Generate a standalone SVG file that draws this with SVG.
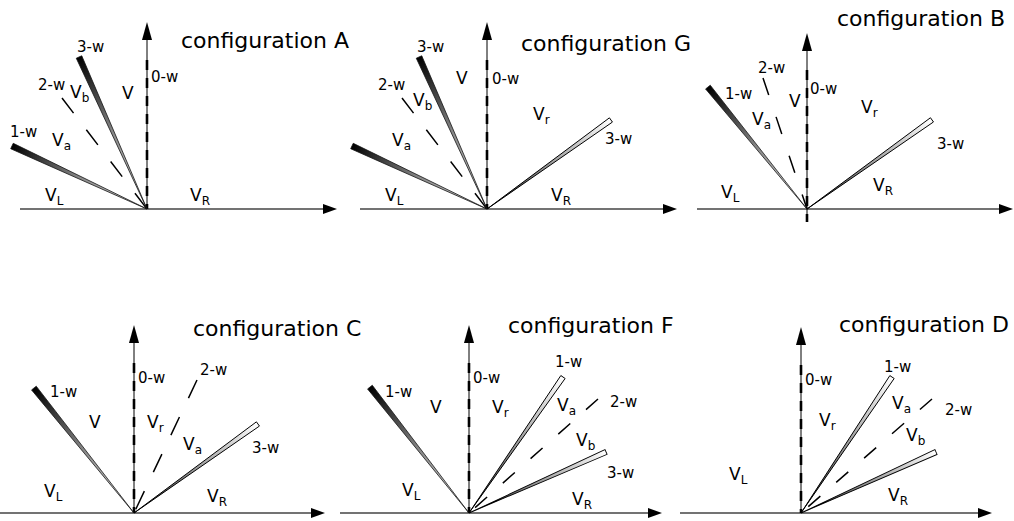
<svg xmlns="http://www.w3.org/2000/svg" width="1014" height="521" viewBox="0 0 1014 521">
<defs>
<linearGradient id="gDark" x1="0" y1="0" x2="1" y2="0">
<stop offset="0" stop-color="#e0e0e0"/>
<stop offset="0.5" stop-color="#888"/>
<stop offset="1" stop-color="#000"/>
</linearGradient>
<linearGradient id="gLight" x1="0" y1="0" x2="1" y2="0">
<stop offset="0" stop-color="#222"/>
<stop offset="0.5" stop-color="#999"/>
<stop offset="1" stop-color="#fff"/>
</linearGradient>
<style>
text{font-family:"DejaVu Sans","Liberation Sans",sans-serif;fill:#000}
.cfg{font-size:22px}
.w{font-size:15px}
.v{font-size:17px}
.s{font-size:12px}
.hax{stroke:#444;stroke-width:1.5;fill:none}
.vax{stroke:#000;stroke-width:1;fill:none}
.vdash{stroke:#000;stroke-width:2.6;stroke-dasharray:10 8;fill:none}
.dk{fill:url(#gDark);stroke:#111;stroke-width:0.7}
.lt{fill:url(#gLight);stroke:#000;stroke-width:0.9}
.dl{stroke:#000;stroke-width:1.5;fill:none}
.ah{fill:#000}
</style>
</defs>

<g id="connectors">
<!-- Panel A -->
<line class="hax" x1="20" y1="209" x2="326" y2="209"/>
<polygon class="ah" points="337,209 323,204 323,214"/>
<line class="vax" x1="147" y1="209" x2="147" y2="38"/>
<line class="vdash" x1="147" y1="60" x2="147" y2="209"/>
<polygon class="ah" points="147,22 142,40 152,40"/>
<line class="dl" x1="62" y1="98" x2="147" y2="209" stroke-dasharray="19 21"/>
<!-- Panel G -->
<line class="hax" x1="360" y1="209" x2="666" y2="209"/>
<polygon class="ah" points="677,209 663,204 663,214"/>
<line class="vax" x1="487" y1="209" x2="487" y2="38"/>
<line class="vdash" x1="487" y1="60" x2="487" y2="209"/>
<polygon class="ah" points="487,22 482,40 492,40"/>
<line class="dl" x1="402" y1="98" x2="487" y2="209" stroke-dasharray="19 21"/>
<!-- Panel B -->
<line class="hax" x1="697" y1="209" x2="1002" y2="209"/>
<polygon class="ah" points="1013,209 999,204 999,214"/>
<line class="vax" x1="807" y1="222" x2="807" y2="50"/>
<line class="vdash" x1="807" y1="70" x2="807" y2="222"/>
<polygon class="ah" points="807,33 802,51 812,51"/>
<line class="dl" x1="763" y1="78" x2="807" y2="209" stroke-dasharray="18 23"/>
<!-- Panel C -->
<line class="hax" x1="0" y1="513" x2="314" y2="513"/>
<polygon class="ah" points="325,513 311,508 311,518"/>
<line class="vax" x1="134" y1="513" x2="134" y2="341"/>
<line class="vdash" x1="134" y1="363" x2="134" y2="513"/>
<polygon class="ah" points="134,325 129,343 139,343"/>
<line class="dl" x1="197" y1="380" x2="134" y2="513" stroke-dasharray="20 21"/>
<!-- Panel F -->
<line class="hax" x1="340" y1="513" x2="651" y2="513"/>
<polygon class="ah" points="662,513 648,508 648,518"/>
<line class="vax" x1="469" y1="513" x2="469" y2="341"/>
<line class="vdash" x1="469" y1="363" x2="469" y2="513"/>
<polygon class="ah" points="469,325 464,343 474,343"/>
<line class="dl" x1="598" y1="399" x2="469" y2="513" stroke-dasharray="16 21"/>
<!-- Panel D -->
<line class="hax" x1="680" y1="513" x2="981" y2="513"/>
<polygon class="ah" points="992,513 978,508 978,518"/>
<line class="vax" x1="801" y1="513" x2="801" y2="343"/>
<line class="vdash" x1="801" y1="365" x2="801" y2="513"/>
<polygon class="ah" points="801,327 796,345 806,345"/>
<line class="dl" x1="932" y1="399" x2="801" y2="513" stroke-dasharray="16 21"/>
</g>

<g id="panelA">
<polygon class="dk" points="0,0 166.5,-3 166.5,3" transform="translate(147,209) rotate(-114.1)"/>
<polygon class="dk" points="0,0 149,-3 149,3" transform="translate(147,209) rotate(-155)"/>
<text class="cfg" x="181" y="48">configuration A</text>
<text class="w" x="77" y="52">3-w</text>
<text class="w" x="38" y="90">2-w</text>
<text class="w" x="10" y="137">1-w</text>
<text class="w" x="151" y="82">0-w</text>
<text class="v" x="122" y="99">V</text>
<text class="v" x="70" y="98">V<tspan class="s" dy="4">b</tspan></text>
<text class="v" x="52" y="146">V<tspan class="s" dy="4">a</tspan></text>
<text class="v" x="45" y="201">V<tspan class="s" dy="4">L</tspan></text>
<text class="v" x="190" y="201">V<tspan class="s" dy="4">R</tspan></text>
</g>

<g id="panelG">
<polygon class="dk" points="0,0 166.5,-3 166.5,3" transform="translate(487,209) rotate(-114.1)"/>
<polygon class="dk" points="0,0 149,-3 149,3" transform="translate(487,209) rotate(-155)"/>
<polygon class="lt" points="0,0 152.6,-2.6 152.6,2.6" transform="translate(487,209) rotate(-35.7)"/>
<text class="cfg" x="521" y="51">configuration G</text>
<text class="w" x="417" y="52">3-w</text>
<text class="w" x="378" y="90">2-w</text>
<text class="w" x="492" y="84">0-w</text>
<text class="v" x="456" y="84">V</text>
<text class="v" x="413" y="106">V<tspan class="s" dy="4">b</tspan></text>
<text class="v" x="533" y="120">V<tspan class="s" dy="4">r</tspan></text>
<text class="v" x="392" y="146">V<tspan class="s" dy="4">a</tspan></text>
<text class="w" x="605" y="144">3-w</text>
<text class="v" x="385" y="201">V<tspan class="s" dy="4">L</tspan></text>
<text class="v" x="551" y="201">V<tspan class="s" dy="4">R</tspan></text>
</g>

<g id="panelB">
<polygon class="dk" points="0,0 157.1,-3 157.1,3" transform="translate(807,209) rotate(-129.1)"/>
<polygon class="lt" points="0,0 153.5,-2.6 153.5,2.6" transform="translate(807,209) rotate(-35.5)"/>
<text class="cfg" x="837" y="26">configuration B</text>
<text class="w" x="758" y="73">2-w</text>
<text class="w" x="725" y="99">1-w</text>
<text class="w" x="810" y="94">0-w</text>
<text class="v" x="789" y="107">V</text>
<text class="v" x="752" y="125">V<tspan class="s" dy="4">a</tspan></text>
<text class="v" x="861" y="113">V<tspan class="s" dy="4">r</tspan></text>
<text class="w" x="937" y="149">3-w</text>
<text class="v" x="873" y="191">V<tspan class="s" dy="4">R</tspan></text>
<text class="v" x="721" y="198">V<tspan class="s" dy="4">L</tspan></text>
</g>

<g id="panelC">
<polygon class="dk" points="0,0 160.1,-3 160.1,3" transform="translate(134,513) rotate(-128.7)"/>
<polygon class="lt" points="0,0 152.6,-2.6 152.6,2.6" transform="translate(134,513) rotate(-35.7)"/>
<text class="cfg" x="193" y="336">configuration C</text>
<text class="w" x="50" y="397">1-w</text>
<text class="w" x="138" y="383">0-w</text>
<text class="w" x="200" y="375">2-w</text>
<text class="v" x="89" y="428">V</text>
<text class="v" x="147" y="428">V<tspan class="s" dy="4">r</tspan></text>
<text class="v" x="183" y="450">V<tspan class="s" dy="4">a</tspan></text>
<text class="w" x="252" y="453">3-w</text>
<text class="v" x="44" y="497">V<tspan class="s" dy="4">L</tspan></text>
<text class="v" x="207" y="502">V<tspan class="s" dy="4">R</tspan></text>
</g>

<g id="panelF">
<polygon class="dk" points="0,0 160.2,-3 160.2,3" transform="translate(469,513) rotate(-128.2)"/>
<polygon class="lt" points="0,0 165.3,-2.6 165.3,2.6" transform="translate(469,513) rotate(-55.35)"/>
<polygon class="lt" points="0,0 150,-2.6 150,2.6" transform="translate(469,513) rotate(-24)"/>
<text class="cfg" x="508" y="333">configuration F</text>
<text class="w" x="385" y="397">1-w</text>
<text class="w" x="473" y="383">0-w</text>
<text class="w" x="555" y="367">1-w</text>
<text class="w" x="610" y="407">2-w</text>
<text class="v" x="430" y="413">V</text>
<text class="v" x="492" y="413">V<tspan class="s" dy="4">r</tspan></text>
<text class="v" x="557" y="411">V<tspan class="s" dy="4">a</tspan></text>
<text class="v" x="576" y="446">V<tspan class="s" dy="4">b</tspan></text>
<text class="w" x="607" y="478">3-w</text>
<text class="v" x="402" y="496">V<tspan class="s" dy="4">L</tspan></text>
<text class="v" x="572" y="505">V<tspan class="s" dy="4">R</tspan></text>
</g>

<g id="panelD">
<polygon class="lt" points="0,0 163.6,-2.6 163.6,2.6" transform="translate(801,513) rotate(-56.2)"/>
<polygon class="lt" points="0,0 148.1,-2.6 148.1,2.6" transform="translate(801,513) rotate(-24.3)"/>
<text class="cfg" x="839" y="332">configuration D</text>
<text class="w" x="805" y="385">0-w</text>
<text class="w" x="884" y="372">1-w</text>
<text class="w" x="945" y="415">2-w</text>
<text class="v" x="819" y="426">V<tspan class="s" dy="4">r</tspan></text>
<text class="v" x="892" y="409">V<tspan class="s" dy="4">a</tspan></text>
<text class="v" x="906" y="441">V<tspan class="s" dy="4">b</tspan></text>
<text class="v" x="729" y="480">V<tspan class="s" dy="4">L</tspan></text>
<text class="v" x="888" y="501">V<tspan class="s" dy="4">R</tspan></text>
</g>
</svg>
